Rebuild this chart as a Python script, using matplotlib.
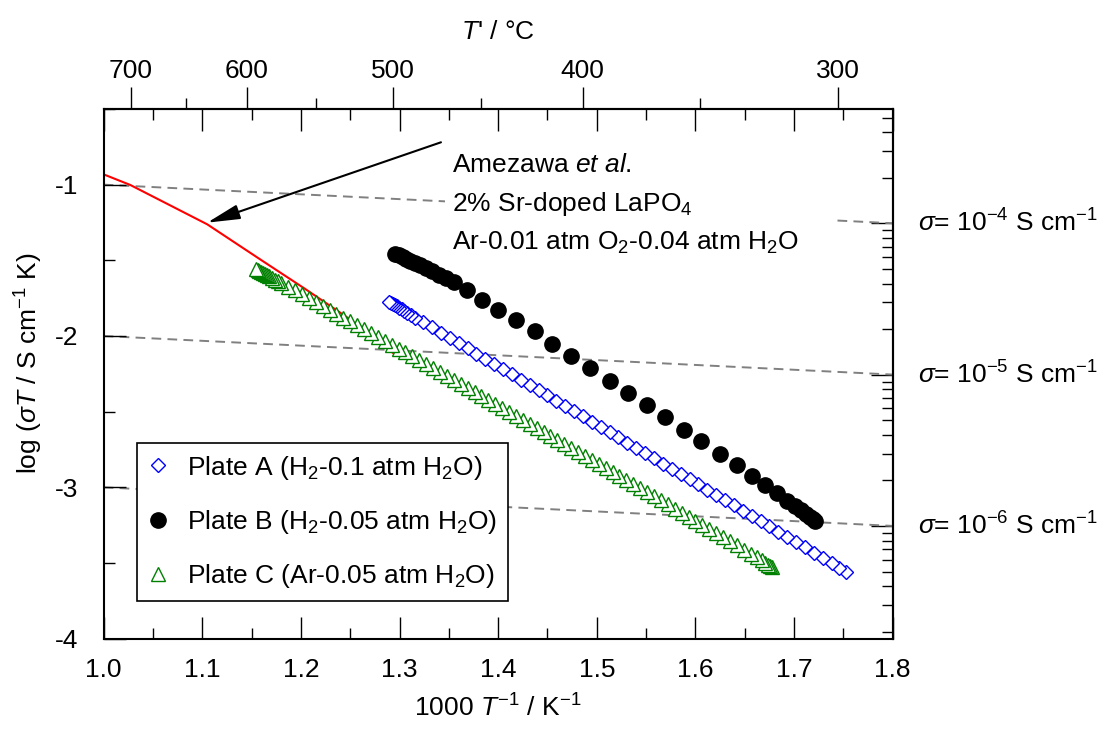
import numpy as np
import matplotlib
matplotlib.use('Agg')
import matplotlib.pyplot as plt
from matplotlib.ticker import FixedLocator, MultipleLocator, NullFormatter
from matplotlib.patches import Rectangle

plt.rcParams['font.family'] = ['Liberation Sans', 'DejaVu Sans']
plt.rcParams['mathtext.fontset'] = 'custom'
plt.rcParams['mathtext.rm'] = 'Liberation Sans'
plt.rcParams['mathtext.it'] = 'Liberation Sans:italic'
plt.rcParams['mathtext.bf'] = 'Liberation Sans:bold'
plt.rcParams['axes.unicode_minus'] = False
plt.rcParams['lines.scale_dashes'] = False

# Plate A (H2-0.1 atm H2O), open blue diamonds
x_a = [1.289, 1.291, 1.293, 1.295, 1.297, 1.299, 1.302, 1.305, 1.308, 1.312, 1.316,
       1.324, 1.333, 1.342, 1.351, 1.360, 1.369, 1.378, 1.387, 1.396, 1.405, 1.414,
       1.423, 1.432, 1.441, 1.450, 1.459, 1.468, 1.477, 1.486, 1.495, 1.504, 1.513,
       1.522, 1.531, 1.540, 1.549, 1.558, 1.567, 1.576, 1.585, 1.594, 1.603, 1.612,
       1.621, 1.630, 1.639, 1.648, 1.657, 1.666, 1.675, 1.684, 1.693, 1.702, 1.711,
       1.720, 1.729, 1.738, 1.746, 1.753]
y_a = [-1.774, -1.782, -1.789, -1.797, -1.805, -1.812, -1.824, -1.836, -1.847, -1.862, -1.878,
       -1.909, -1.943, -1.978, -2.012, -2.047, -2.082, -2.116, -2.151, -2.185, -2.220, -2.254,
       -2.289, -2.324, -2.358, -2.393, -2.427, -2.462, -2.497, -2.531, -2.566, -2.600, -2.635,
       -2.670, -2.704, -2.739, -2.773, -2.808, -2.843, -2.877, -2.912, -2.946, -2.981, -3.016,
       -3.050, -3.085, -3.119, -3.154, -3.189, -3.223, -3.258, -3.292, -3.327, -3.362, -3.396,
       -3.431, -3.465, -3.500, -3.531, -3.558]

# Plate B (H2-0.05 atm H2O), filled black circles
x_b = [1.295, 1.299, 1.303, 1.307, 1.311, 1.316, 1.321, 1.327, 1.333, 1.340, 1.347, 1.355,
       1.368, 1.384, 1.400, 1.418, 1.437, 1.455, 1.474, 1.493, 1.513, 1.532, 1.551, 1.569,
       1.588, 1.606, 1.625, 1.642, 1.657, 1.671, 1.683, 1.693, 1.701, 1.707, 1.712, 1.716,
       1.719, 1.721]
y_b = [-1.455, -1.467, -1.479, -1.491, -1.503, -1.518, -1.534, -1.553, -1.572, -1.594, -1.617, -1.645,
       -1.696, -1.762, -1.828, -1.897, -1.970, -2.050, -2.130, -2.210, -2.295, -2.375, -2.456, -2.535,
       -2.618, -2.697, -2.778, -2.853, -2.922, -2.986, -3.040, -3.087, -3.124, -3.152, -3.175, -3.195,
       -3.210, -3.222]

# Plate C (Ar-0.05 atm H2O), open green triangles
x_c = [1.154, 1.156, 1.158, 1.160, 1.162, 1.164, 1.166, 1.168, 1.171, 1.174, 1.177, 1.180,
       1.187, 1.194, 1.201, 1.208, 1.215, 1.222, 1.229, 1.236, 1.243, 1.250, 1.257, 1.264,
       1.271, 1.278, 1.285, 1.292, 1.299, 1.306, 1.313, 1.320, 1.327, 1.334, 1.341, 1.348,
       1.355, 1.362, 1.369, 1.376, 1.383, 1.390, 1.397, 1.404, 1.411, 1.418, 1.425, 1.432,
       1.439, 1.446, 1.453, 1.460, 1.467, 1.474, 1.481, 1.488, 1.495, 1.502, 1.509, 1.516,
       1.523, 1.530, 1.537, 1.544, 1.551, 1.558, 1.565, 1.572, 1.579, 1.586, 1.593, 1.600,
       1.607, 1.614, 1.621, 1.628, 1.635, 1.642, 1.649, 1.656, 1.662, 1.667, 1.671, 1.674,
       1.676, 1.678]
y_c = [-1.555, -1.562, -1.569, -1.576, -1.584, -1.591, -1.598, -1.605, -1.616, -1.627, -1.638, -1.649,
       -1.674, -1.699, -1.725, -1.750, -1.776, -1.801, -1.827, -1.852, -1.878, -1.903, -1.929, -1.955,
       -1.980, -2.006, -2.032, -2.058, -2.083, -2.109, -2.135, -2.161, -2.187, -2.213, -2.239, -2.265,
       -2.291, -2.317, -2.343, -2.369, -2.395, -2.422, -2.448, -2.474, -2.500, -2.527, -2.553, -2.580,
       -2.606, -2.632, -2.659, -2.685, -2.712, -2.738, -2.765, -2.791, -2.818, -2.845, -2.872, -2.898,
       -2.925, -2.952, -2.979, -3.006, -3.032, -3.059, -3.086, -3.113, -3.140, -3.167, -3.194, -3.221,
       -3.248, -3.276, -3.303, -3.330, -3.357, -3.384, -3.412, -3.439, -3.462, -3.482, -3.498, -3.510,
       -3.517, -3.525]

# Amezawa et al. literature curve (red)
x_lit = [1.000, 1.027, 1.060, 1.105, 1.159, 1.205, 1.246, 1.294]
y_lit = [-0.932, -1.002, -1.112, -1.262, -1.495, -1.692, -1.873, -2.115]

# iso-conductivity guide lines (ends at x = 1.0 and x = 1.8)
iso_x = [1.0, 1.8]
iso_y = [[-1.0, -1.255], [-2.0, -2.255], [-3.0, -3.255]]
iso_labels = [r'$\sigma$= 10$^{-4}$ S cm$^{-1}$',
              r'$\sigma$= 10$^{-5}$ S cm$^{-1}$',
              r'$\sigma$= 10$^{-6}$ S cm$^{-1}$']

labels = [r'Plate A (H$_2$-0.1 atm H$_2$O)',
          r'Plate B (H$_2$-0.05 atm H$_2$O)',
          r'Plate C (Ar-0.05 atm H$_2$O)']

note = ['Amezawa $et\\ al.$', '2% Sr-doped LaPO$_4$', 'Ar-0.01 atm O$_2$-0.04 atm H$_2$O']

temp_major = [700, 600, 500, 400, 300]
temp_minor = [650, 550, 450, 350]

FS = 19
fig = plt.figure(figsize=(11.11, 7.31), dpi=100)
ax = fig.add_axes([0.0933, 0.1263, 0.7102, 0.7246])

for yy in iso_y:
    ax.plot(iso_x, yy, color='#808080', lw=1.4, dashes=(7, 4.5), zorder=1)
for yy, lab in zip(iso_y, iso_labels):
    ax.text(1.826, yy[1], lab, fontsize=FS, va='center', ha='left', clip_on=False)

ax.plot(x_lit, y_lit, color='red', lw=1.5, zorder=2)

ax.add_patch(Rectangle((1.346, -1.51), 0.392, 0.80, facecolor='white', edgecolor='none', zorder=3))
for i, t in enumerate(note):
    ax.text(1.353, -0.915 - 0.258 * i, t, fontsize=FS, va='baseline', ha='left', zorder=4)

ax.annotate('', xy=(1.105, -1.251), xytext=(1.342, -0.72),
            arrowprops=dict(arrowstyle='-|>,head_length=0.8,head_width=0.18',
                            mutation_scale=25, color='black', lw=1.5,
                            shrinkA=0, shrinkB=0), zorder=5)

ax.plot(x_a[::-1], y_a[::-1], ls='none', marker='D', ms=7.4, mfc='white', mec='blue',
        mew=1.0, label=labels[0], zorder=6)
ax.plot(x_b[::-1], y_b[::-1], ls='none', marker='o', ms=11, mfc='black', mec='black',
        label=labels[1], zorder=6)
ax.plot(x_c[::-1], y_c[::-1], ls='none', marker='^', ms=10.5, mfc='white', mec='green',
        mew=1.0, label=labels[2], zorder=6)

ax.set_xlim(1.0, 1.8)
ax.set_ylim(-4.0, -0.5)
ax.xaxis.set_minor_locator(MultipleLocator(0.05))
ax.yaxis.set_minor_locator(MultipleLocator(0.5))
ax.set_xticks([1.0, 1.1, 1.2, 1.3, 1.4, 1.5, 1.6, 1.7, 1.8],
              ['1.0', '1.1', '1.2', '1.3', '1.4', '1.5', '1.6', '1.7', '1.8'])
ax.set_yticks([-4, -3, -2, -1], ['-4', '-3', '-2', '-1'])
ax.tick_params(axis='x', which='both', direction='in', top=True, bottom=True, labelsize=FS, pad=14)
ax.tick_params(axis='y', which='both', direction='in', left=True, right=False, labelsize=FS, pad=18)
ax.tick_params(which='major', length=15.8, width=1.0)
ax.tick_params(which='minor', length=8, width=1.0)
for s in ax.spines.values():
    s.set_linewidth(1.5)

ax.set_xlabel(r'1000 $T^{-1}$ / K$^{-1}$', fontsize=FS, labelpad=9)
ax.set_ylabel(r'log ($\sigma T$ / S cm$^{-1}$ K)', fontsize=FS)
ax.yaxis.set_label_coords(-0.074, 0.52)

# top axis in degC
top = ax.secondary_xaxis('top', functions=(lambda x: 1000.0 / x - 273.15,
                                           lambda t: 1000.0 / (t + 273.15)))
top.xaxis.set_minor_locator(FixedLocator(temp_minor))
top.xaxis.set_minor_formatter(NullFormatter())
top.set_xticks(temp_major, [str(t) for t in temp_major])
top.tick_params(which='both', direction='out', labelsize=FS, pad=3, width=1.0)
top.tick_params(which='major', length=15.8)
top.tick_params(which='minor', length=8)
top.spines['top'].set_linewidth(1.5)
top.set_xlabel(r"$T$' / °C", fontsize=FS, labelpad=14)

# right axis: conductivity at x = 1.8
off = np.log10(1000.0 / 1.8)
right = ax.secondary_yaxis('right', functions=(lambda y: y - off, lambda s: s + off))
sig_minor = [np.log10(k) + e for e in [-7, -6, -5, -4] for k in range(2, 10)]
right.yaxis.set_major_locator(FixedLocator([-4, -5, -6]))
right.yaxis.set_minor_locator(FixedLocator(sig_minor))
right.yaxis.set_major_formatter(NullFormatter())
right.yaxis.set_minor_formatter(NullFormatter())
right.tick_params(which='both', direction='in', width=1.0)
right.tick_params(which='major', length=15.8)
right.tick_params(which='minor', length=8)
right.spines['right'].set_linewidth(1.5)

leg = ax.legend(loc='upper left', bbox_to_anchor=(0.0422, 0.3695), borderaxespad=0,
                fontsize=FS, numpoints=1, handlelength=0.8, handletextpad=0.7,
                borderpad=0.4, labelspacing=1.0, fancybox=False, framealpha=1,
                edgecolor='black')
leg.get_frame().set_linewidth(1.2)
leg.set_zorder(7)

fig.savefig('out.png', dpi=100)
